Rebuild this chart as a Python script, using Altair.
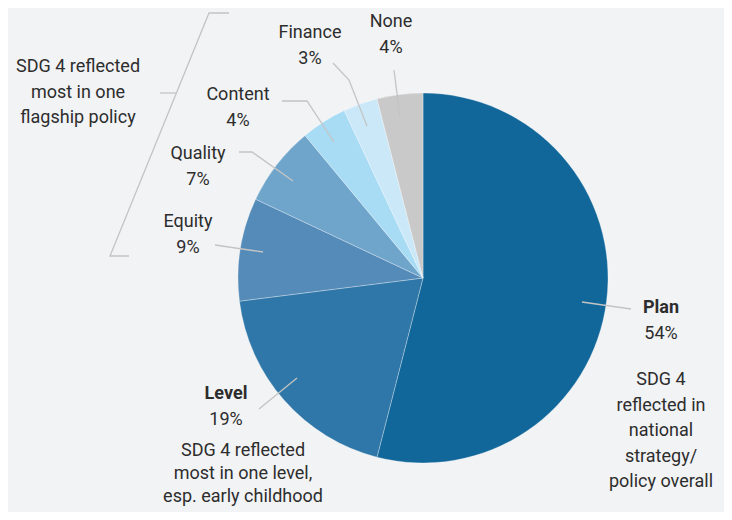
import altair as alt
import pandas as pd

# ---- data ----
categories = ["Plan", "Level", "Equity", "Quality", "Content", "Finance", "None"]
shares = [54, 19, 9, 7, 4, 3, 4]
colors = ["#12679a", "#2e77a8", "#558bb9", "#6fa5cb", "#a8dcf5", "#cbe8f9", "#c9c9c9"]

pie_df = pd.DataFrame({"category": categories, "share": shares, "order": list(range(len(categories)))})

OFF = 8  # page margin
CX, CY, R = 423 - OFF, 278 - OFF, 185

# ---- annotation layout (pixel positions in page coords) ----
label_pos = {
    "Plan": (661, 308), "Level": (226, 394), "Equity": (188, 222), "Quality": (198, 154),
    "Content": (238, 95), "Finance": (310, 33), "None": (391, 22),
}
bold_labels = {"Plan", "Level"}
LINE = 25.5

texts = []
for c, s in zip(categories, shares):
    x, y = label_pos[c]
    texts.append({"t": c, "x": x - OFF, "y": y - OFF, "bold": c in bold_labels})
    texts.append({"t": f"{s}%", "x": x - OFF, "y": y + LINE - OFF, "bold": False})

notes = [
    (["SDG 4 reflected", "most in one", "flagship policy"], 78, 67, LINE),
    (["SDG 4 reflected", "most in one level,", "esp. early childhood"], 243, 451, 23),
    (["SDG 4", "reflected in", "national", "strategy/", "policy overall"], 661, 380, LINE),
]
for lines, x, y, lh in notes:
    for i, ln in enumerate(lines):
        texts.append({"t": ln, "x": x - OFF, "y": y + i * lh - OFF, "bold": False})
text_df = pd.DataFrame(texts)

leaders = {
    "None": [(394, 70), (400, 117)],
    "Finance": [(333, 63), (349, 80), (367, 126)],
    "Content": [(282, 101), (307, 101), (334, 142)],
    "Quality": [(239, 152), (252, 152), (293, 181)],
    "Equity": [(215, 245), (263, 252)],
    "Level": [(259, 409), (297, 378)],
    "Plan": [(582, 302), (631, 309)],
    "bracket": [(229, 13), (209, 13), (110, 256), (129, 256)],
    "tick": [(160, 93), (176, 93)],
}
rows = []
for k, pts in leaders.items():
    for i, (x, y) in enumerate(pts):
        rows.append({"id": k, "i": i, "x": x - OFF, "y": y - OFF})
line_df = pd.DataFrame(rows)

FONT = "Roboto"
FS = 18

pie = alt.Chart(pie_df).mark_arc(
    outerRadius=R, stroke="#ffffff", strokeWidth=0.6, strokeOpacity=0.5
).encode(
    theta=alt.Theta("share:Q", stack=True),
    order=alt.Order("order:Q"),
    color=alt.Color("category:N", scale=alt.Scale(domain=categories, range=colors), legend=None),
    x=alt.value(CX), y=alt.value(CY),
)

lines = alt.Chart(line_df).mark_line(color="#c4c4c4", strokeWidth=1.3).encode(
    x=alt.X("x:Q", scale=None, axis=None),
    y=alt.Y("y:Q", scale=None, axis=None),
    detail="id:N",
    order="i:Q",
)

normal = alt.Chart(text_df).transform_filter("!datum.bold").mark_text(
    font=FONT, fontSize=FS, color="#2d2d2d", baseline="middle", align="center"
).encode(
    x=alt.X("x:Q", scale=None, axis=None),
    y=alt.Y("y:Q", scale=None, axis=None),
    text="t:N",
)
bold = alt.Chart(text_df).transform_filter("datum.bold").mark_text(
    font=FONT, fontSize=FS, fontWeight="bold", color="#2d2d2d", baseline="middle", align="center"
).encode(
    x=alt.X("x:Q", scale=None, axis=None),
    y=alt.Y("y:Q", scale=None, axis=None),
    text="t:N",
)

chart = alt.layer(pie, lines, normal, bold).properties(
    width=716, height=504, background="#f2f3f5", padding=0,
    autosize=alt.AutoSizeParams(type="none"),
).configure_view(stroke=None)

chart.save("out.html", embed_options={"renderer": "svg", "actions": False})
